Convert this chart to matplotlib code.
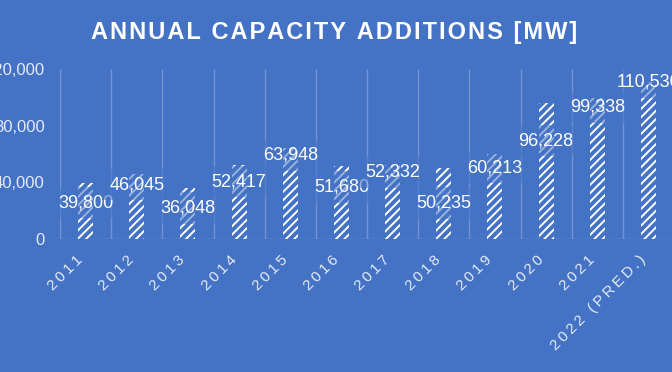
import matplotlib
matplotlib.use('Agg')
import matplotlib.pyplot as plt
from matplotlib.ticker import FuncFormatter

years = ['2011', '2012', '2013', '2014', '2015', '2016', '2017', '2018',
         '2019', '2020', '2021', '2022 (PRED.)']
additions_mw = [39800, 46045, 36048, 52417, 63948, 51680, 52332, 50235,
                60213, 96228, 99338, 110530]
y_ticks = [0, 40000, 80000, 120000]
title = 'ANNUAL CAPACITY ADDITIONS [MW]'

# how far each value label sits below the top of its bar (pixels)
label_drop = [20, 11, 20, 17, 7, 21, 7, 35, 14, 38, 9, 0]

bg = '#4472c4'
grid_col = (1, 1, 1, 0.25)
fonts = ['Liberation Sans', 'DejaVu Sans']

plt.rcParams['font.family'] = fonts
plt.rcParams['hatch.color'] = 'white'
plt.rcParams['hatch.linewidth'] = 1.4


def spaced(s, sp='\u2009'):
    # fake letter spacing
    return sp.join(s)


fig = plt.figure(figsize=(6.72, 3.72), dpi=100, facecolor=bg)
ax = fig.add_axes([60 / 672, 133 / 372, 614 / 672, 170 / 372])
ax.set_facecolor(bg)

x = list(range(len(years)))
ax.vlines([i - 0.5 for i in range(len(years) + 1)], 0, y_ticks[-1],
          color=grid_col, lw=1, zorder=0)
ax.axhline(0, color=grid_col, lw=1, zorder=0)

ax.bar(x, additions_mw, width=0.29, color=bg, edgecolor='white',
       linewidth=0, hatch='////', zorder=2)

for i, v in enumerate(additions_mw):
    ax.annotate(f'{v:,}', (i, v), xytext=(0, -label_drop[i]),
                textcoords='offset pixels', ha='center', va='center',
                fontsize=13, color='white', zorder=3,
                bbox=dict(boxstyle='square,pad=0.4', fc=bg, ec='none', alpha=0.55))

ax.set_xlim(-0.5, len(years) - 0.5)
ax.set_ylim(0, y_ticks[-1])
ax.set_yticks(y_ticks)
ax.yaxis.set_major_formatter(FuncFormatter(lambda v, p: f'{int(v):,}'))
ax.set_xticks(x)
ax.set_xticklabels([spaced(y) for y in years], rotation=45, ha='right', va='top')
ax.tick_params(axis='y', length=0, pad=11, labelsize=12, labelcolor='#e4ebf7')
ax.tick_params(axis='x', length=0, pad=10, labelsize=11, labelcolor='#e4ebf7')
for s in ax.spines.values():
    s.set_visible(False)

fig.text(334 / 672, 1 - 32 / 372, spaced(title, '\u200a'), ha='center', va='center',
         fontsize=17, fontweight='bold', color='white')

fig.savefig('out.png', dpi=100, facecolor=bg)
